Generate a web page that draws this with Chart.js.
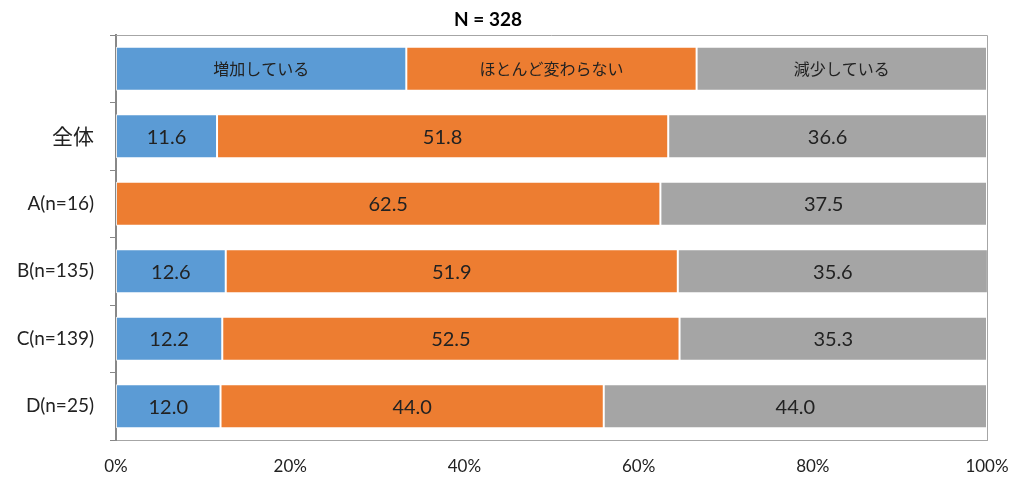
<!DOCTYPE html>
<html>
<head>
<meta charset="utf-8">
<script src="https://cdn.jsdelivr.net/npm/chart.js@4/dist/chart.umd.min.js"></script>
<style>
  html, body { margin: 0; padding: 0; background: #fff; }
  #wrap { width: 1014px; height: 477px; position: relative; }
</style>
</head>
<body>
<div id="wrap"><canvas id="chart"></canvas></div>
<script>
// rows: first row is the in-plot legend row
const categories = ['', '全体', 'A(n=16)', 'B(n=135)', 'C(n=139)', 'D(n=25)']
const seriesNames = ['増加している', 'ほとんど変わらない', '減少している']
const increasing = [33.33, 11.6, 0, 12.6, 12.2, 12.0]
const unchanged = [33.33, 51.8, 62.5, 51.9, 52.5, 44.0]
const decreasing = [33.34, 36.6, 37.5, 35.6, 35.3, 44.0]
const xTicks = [0, 20, 40, 60, 80, 100]
const titleText = 'N = 328'

const colors = ['#5B9BD5', '#ED7D31', '#A5A5A5']
const jpFont = '"Noto Sans CJK JP", "Noto Sans", sans-serif'
const numFont = 'Lato, "Open Sans", sans-serif'

// draws values inside bars, the header row names, the title and the plot box
const labelPlugin = {
  id: 'labels',
  afterDatasetsDraw(chart) {
    const ctx = chart.ctx
    const area = chart.chartArea
    ctx.save()
    ctx.strokeStyle = '#a6a6a6'
    ctx.lineWidth = 1
    ctx.beginPath()
    ctx.moveTo(area.left, area.top + 0.5)
    ctx.lineTo(area.right + 0.5, area.top + 0.5)
    ctx.lineTo(area.right + 0.5, area.bottom)
    ctx.stroke()

    ctx.textAlign = 'center'
    ctx.textBaseline = 'middle'
    chart.data.datasets.forEach((ds, di) => {
      const meta = chart.getDatasetMeta(di)
      meta.data.forEach((bar, i) => {
        const v = ds.data[i]
        if (!v) return
        const x = (bar.base + bar.x) / 2
        const y = bar.y
        ctx.fillStyle = '#222'
        if (i === 0) {
          ctx.font = '16px ' + jpFont
          ctx.fillText(seriesNames[di], x, y)
        } else {
          ctx.font = '20px ' + numFont
          ctx.fillText(v.toFixed(1), x, y + 1)
        }
      })
    })

    ctx.font = 'bold 19px ' + numFont
    ctx.fillStyle = '#000'
    ctx.fillText(titleText, 488, 20)
    ctx.restore()
  }
}

const datasets = [increasing, unchanged, decreasing].map((d, i) => ({
  label: seriesNames[i],
  data: d,
  backgroundColor: colors[i],
  borderColor: 'rgba(255,255,255,0.8)',
  borderWidth: 1,
  borderSkipped: false,
  categoryPercentage: 1,
  barPercentage: 0.65
}))

new Chart(document.getElementById('chart'), {
  type: 'bar',
  data: { labels: categories, datasets: datasets },
  options: {
    indexAxis: 'y',
    responsive: true,
    maintainAspectRatio: false,
    animation: false,
    layout: { padding: { top: 35, right: 27, left: 0, bottom: 0 } },
    plugins: {
      legend: { display: false },
      title: { display: false },
      tooltip: { enabled: false }
    },
    scales: {
      x: {
        stacked: true,
        min: 0,
        max: 100,
        afterFit(scale) {
          scale.height = 37
          scale.paddingLeft = 0
          scale.paddingRight = 0
        },
        afterBuildTicks(scale) { scale.ticks = xTicks.map(v => ({ value: v })) },
        grid: { display: false },
        border: { display: true, color: '#a6a6a6', width: 1 },
        ticks: {
          padding: 8,
          color: '#222',
          font: { size: 17, family: numFont },
          callback: v => v + '%'
        }
      },
      y: {
        stacked: true,
        afterFit(scale) { scale.width = 116 },
        grid: {
          offset: true,
          drawOnChartArea: false,
          drawTicks: true,
          tickLength: 6,
          color: '#888'
        },
        border: { display: true, color: '#888', width: 2 },
        ticks: {
          padding: 16,
          color: '#222',
          font: ctx => ctx.index === 1
            ? { size: 21, family: jpFont }
            : { size: 19, family: numFont }
        }
      }
    }
  },
  plugins: [labelPlugin]
})
</script>
</body>
</html>
